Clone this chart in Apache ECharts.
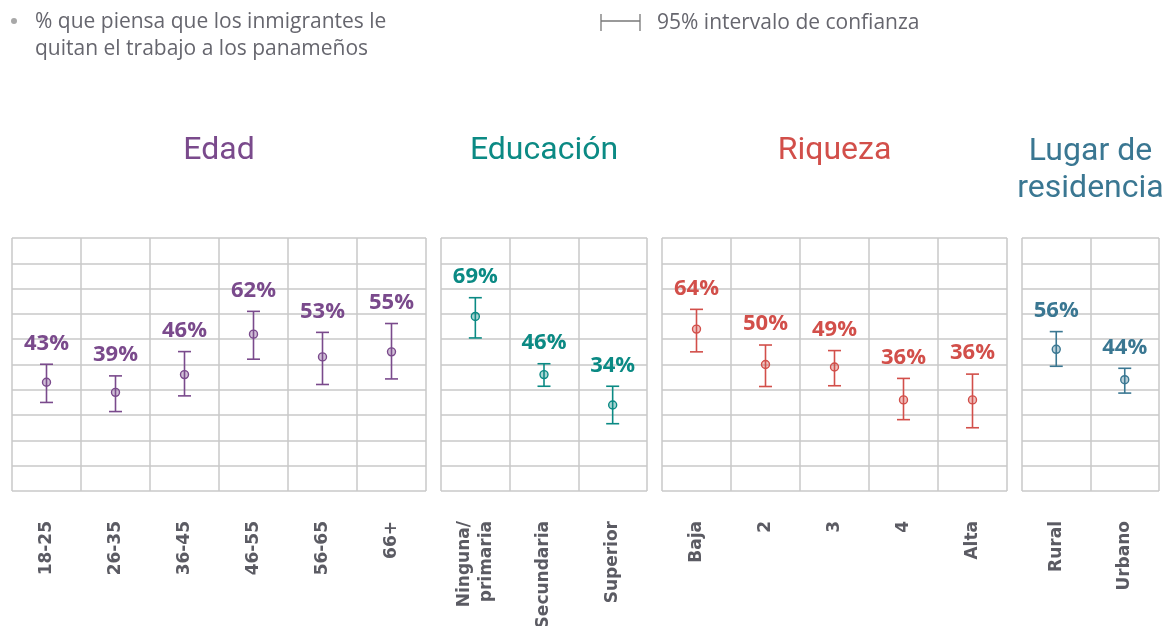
<!DOCTYPE html>
<html>
<head>
<meta charset="utf-8">
<script src="https://cdn.jsdelivr.net/npm/echarts@6/dist/echarts.min.js"></script>
<style>
  html, body {margin: 0; padding: 0; background: #fff;}
  #main {width: 1163px; height: 626px;}
</style>
</head>
<body>
<div id="main"></div>
<script>
// Edad
const edadCats = ['18-25', '26-35', '36-45', '46-55', '56-65', '66+'];
const edadVals = [43, 39, 46, 62, 53, 55];
const edadLo = [35, 31.4, 37.6, 52.1, 42.1, 44.3];
const edadHi = [50.1, 45.5, 55.1, 71, 62.7, 66.2];
// Educación
const eduCats = ['Ninguna/\nprimaria', 'Secundaria', 'Superior'];
const eduVals = [69, 46, 34];
const eduLo = [60.5, 41.4, 26.6];
const eduHi = [76.4, 50.3, 41.4];
// Riqueza
const riqCats = ['Baja', '2', '3', '4', 'Alta'];
const riqVals = [64, 50, 49, 36, 36];
const riqLo = [55, 41.3, 41.6, 28.2, 25];
const riqHi = [71.8, 57.7, 55.5, 44.5, 46.2];
// Lugar de residencia
const lugCats = ['Rural', 'Urbano'];
const lugVals = [56, 44];
const lugLo = [49.3, 38.7];
const lugHi = [63, 48.5];

const panels = [
	{title: 'Edad', cats: edadCats, vals: edadVals, lo: edadLo, hi: edadHi, color: '#7a4a8c', left: 12, width: 414},
	{title: 'Educación', cats: eduCats, vals: eduVals, lo: eduLo, hi: eduHi, color: '#0b8a84', left: 441, width: 206},
	{title: 'Riqueza', cats: riqCats, vals: riqVals, lo: riqLo, hi: riqHi, color: '#d24f4a', left: 662, width: 345},
	{title: 'Lugar de\nresidencia', cats: lugCats, vals: lugVals, lo: lugLo, hi: lugHi, color: '#3a7792', left: 1022, width: 137},
];

const TITLE_FONT = 'Roboto, sans-serif';
const TEXT_FONT = '"Open Sans", sans-serif';
const GRID_TOP = 238;
const GRID_H = 253;
const lineColor = '#c8c8c8';

const makeRender = color => (params, api) => {
	const i = api.value(0);
	const mid = api.coord([i, api.value(1)]);
	const lo = api.coord([i, api.value(2)]);
	const hi = api.coord([i, api.value(3)]);
	const x = mid[0];
	const cap = 6.5;
	const stroke = {stroke: color, lineWidth: 1.6};
	return {
		type: 'group',
		children: [
			{type: 'line', shape: {x1: x, y1: hi[1], x2: x, y2: lo[1]}, style: stroke},
			{type: 'line', shape: {x1: x - cap, y1: hi[1], x2: x + cap, y2: hi[1]}, style: stroke},
			{type: 'line', shape: {x1: x - cap, y1: lo[1], x2: x + cap, y2: lo[1]}, style: stroke},
			{type: 'circle', shape: {cx: x, cy: mid[1], r: 4}, style: {fill: echarts.color.modifyAlpha(color, 0.35), stroke: color, lineWidth: 1.4}},
			{
				type: 'text',
				x: x,
				y: hi[1] - 21,
				style: {
					text: Math.round(api.value(1)) + '%',
					fill: color,
					font: 'bold 22px ' + TEXT_FONT,
					align: 'center',
					verticalAlign: 'middle'
				}
			}
		]
	};
};

const grids = [], xAxes = [], yAxes = [], series = [], graphics = [];
panels.forEach((p, k) => {
	grids.push({left: p.left, top: GRID_TOP, width: p.width, height: GRID_H, show: false, containLabel: false, outerBoundsMode: 'none'});
	xAxes.push({
		type: 'category',
		gridIndex: k,
		data: p.cats,
		axisLine: {show: false},
		axisTick: {show: false},
		splitLine: {show: true, interval: 0, lineStyle: {color: lineColor, width: 1.5}},
		axisLabel: {
			interval: 0,
			rotate: 90,
			margin: 30,
			color: '#5b5b63',
			fontWeight: 'bold',
			fontSize: 17,
			fontFamily: '"DejaVu Sans", sans-serif',
			lineHeight: 22
		}
	});
	yAxes.push({
		type: 'value',
		gridIndex: k,
		min: 0,
		max: 100,
		interval: 10,
		axisLine: {show: false},
		axisTick: {show: false},
		axisLabel: {show: false},
		splitLine: {show: true, lineStyle: {color: lineColor, width: 1.5}}
	});
	series.push({
		type: 'custom',
		xAxisIndex: k,
		yAxisIndex: k,
		renderItem: makeRender(p.color),
		encode: {x: 0, y: [1, 2, 3]},
		data: p.cats.map((c, i) => [i, p.vals[i], p.lo[i], p.hi[i]]),
		z: 10
	});
	graphics.push({
		type: 'text',
		x: p.left + p.width / 2,
		y: k === 3 ? 133 : 151,
		style: {
			text: p.title,
			fill: p.color,
			font: '32px ' + TITLE_FONT,
			lineHeight: 37,
			align: 'center',
			verticalAlign: k === 3 ? 'top' : 'middle'
		}
	});
});

// legend-like header
graphics.push(
	{type: 'circle', shape: {cx: 14, cy: 21, r: 3}, style: {fill: '#a8a8a8'}},
	{
		type: 'text', x: 35, y: 9,
		style: {
			text: '% que piensa que los inmigrantes le\nquitan el trabajo a los panameños',
			fill: '#66666e', font: '21px ' + TEXT_FONT, lineHeight: 27, align: 'left', verticalAlign: 'top'
		}
	},
	{type: 'line', shape: {x1: 601, y1: 14, x2: 601, y2: 31}, style: {stroke: '#777', lineWidth: 1.3}},
	{type: 'line', shape: {x1: 601, y1: 21, x2: 640, y2: 21}, style: {stroke: '#777', lineWidth: 1.3}},
	{type: 'line', shape: {x1: 640, y1: 14, x2: 640, y2: 31}, style: {stroke: '#777', lineWidth: 1.3}},
	{
		type: 'text', x: 657, y: 23,
		style: {text: '95% intervalo de confianza', fill: '#66666e', font: '21px ' + TEXT_FONT, align: 'left', verticalAlign: 'middle'}
	}
);

const myChart = echarts.init(document.getElementById('main'));
myChart.setOption({
	animation: false,
	grid: grids,
	xAxis: xAxes,
	yAxis: yAxes,
	series: series,
	graphic: graphics
});
</script>
</body>
</html>
